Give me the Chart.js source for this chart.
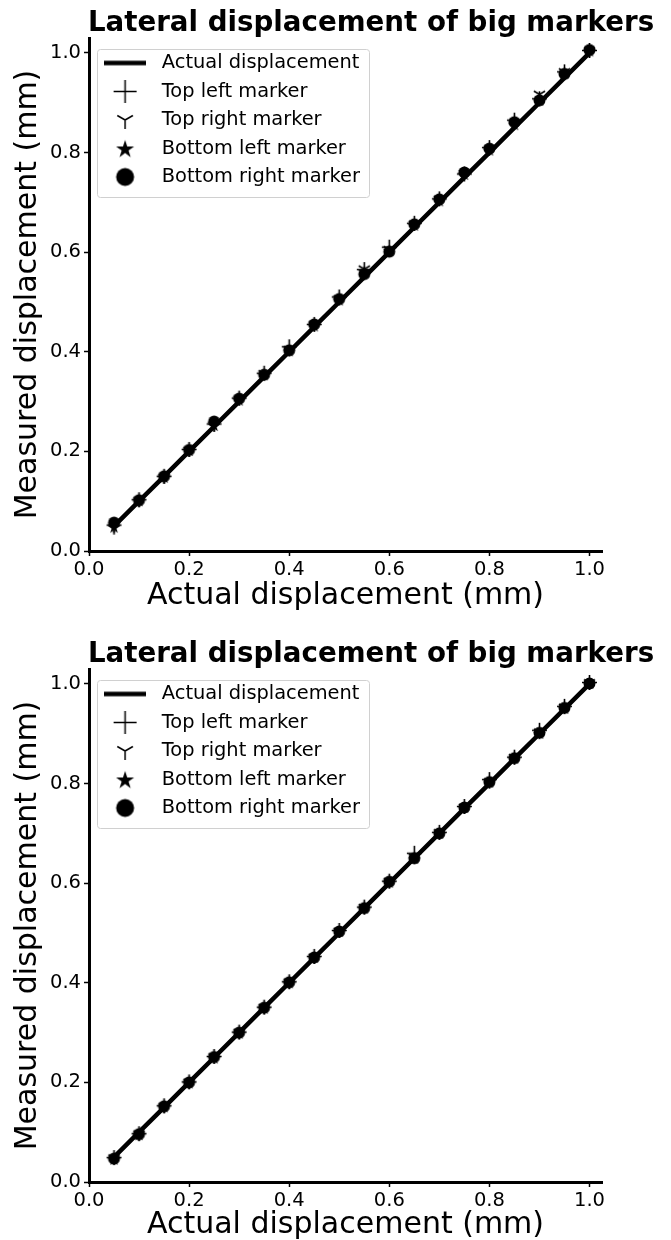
<!DOCTYPE html>
<html>
<head>
<meta charset="utf-8">
<script src="https://cdn.jsdelivr.net/npm/chart.js@4"></script>
<style>
  html, body { margin: 0; padding: 0; background: #fff; overflow: hidden; }
  .plot { position: absolute; left: 0; width: 671px; height: 620px; }
</style>
</head>
<body>
<div class="plot" style="top:0"><canvas id="chartTop" width="671" height="620"></canvas></div>
<div class="plot" style="top:620px"><canvas id="chartBottom" width="671" height="620"></canvas></div>
<script>
// actual displacement (mm)
const actual = [0.05, 0.10, 0.15, 0.20, 0.25, 0.30, 0.35, 0.40, 0.45, 0.50,
                0.55, 0.60, 0.65, 0.70, 0.75, 0.80, 0.85, 0.90, 0.95, 1.00];
const tickValues = [0.0, 0.2, 0.4, 0.6, 0.8, 1.0];
const seriesNames = ['Actual displacement', 'Top left marker', 'Top right marker',
                     'Bottom left marker', 'Bottom right marker'];
const plotTitle = 'Lateral displacement of big markers';

// first plot - measured (mm)
const topLeft1 = [0.052, 0.103, 0.150, 0.204, 0.255, 0.307, 0.357, 0.410, 0.455, 0.510,
                  0.565, 0.610, 0.658, 0.707, 0.757, 0.810, 0.865, 0.908, 0.962, 1.005];
const topRight1 = [0.046, 0.101, 0.148, 0.202, 0.252, 0.305, 0.356, 0.404, 0.454, 0.506,
                   0.566, 0.605, 0.656, 0.706, 0.758, 0.807, 0.858, 0.917, 0.962, 1.004];
const bottomLeft1 = [0.049, 0.102, 0.149, 0.203, 0.253, 0.304, 0.355, 0.403, 0.453, 0.505,
                     0.562, 0.604, 0.655, 0.704, 0.757, 0.806, 0.857, 0.906, 0.960, 1.005];
const bottomRight1 = [0.057, 0.102, 0.150, 0.203, 0.260, 0.306, 0.354, 0.403, 0.455, 0.506,
                      0.556, 0.601, 0.656, 0.706, 0.760, 0.808, 0.861, 0.905, 0.958, 1.006];

// second plot - measured (mm)
const topLeft2 = [0.049, 0.097, 0.153, 0.201, 0.252, 0.301, 0.351, 0.402, 0.453, 0.505,
                  0.552, 0.604, 0.660, 0.702, 0.754, 0.808, 0.853, 0.907, 0.955, 1.003];
const topRight2 = [0.048, 0.096, 0.151, 0.200, 0.251, 0.300, 0.350, 0.401, 0.451, 0.503,
                   0.551, 0.603, 0.652, 0.701, 0.752, 0.803, 0.852, 0.903, 0.953, 1.002];
const bottomLeft2 = [0.047, 0.096, 0.152, 0.200, 0.250, 0.300, 0.350, 0.401, 0.452, 0.504,
                     0.551, 0.603, 0.651, 0.701, 0.753, 0.804, 0.852, 0.902, 0.952, 1.002];
const bottomRight2 = [0.047, 0.096, 0.152, 0.200, 0.251, 0.300, 0.350, 0.401, 0.451, 0.503,
                      0.550, 0.603, 0.650, 0.700, 0.752, 0.803, 0.851, 0.902, 0.952, 1.001];

const FONT = '"DejaVu Sans", sans-serif';
Chart.defaults.color = '#000';
Chart.defaults.font.family = FONT;

// marker glyphs (matplotlib style) drawn on small canvases
function makeMarker(kind, size, lw) {
  const c = document.createElement('canvas');
  const w = kind === 'line' ? size : Math.ceil(size + lw + 2);
  const h = kind === 'line' ? Math.ceil(lw + 2) : w;
  c.width = w; c.height = h;
  const g = c.getContext('2d');
  const cx = w / 2, cy = h / 2, r = size / 2;
  g.fillStyle = '#000';
  g.strokeStyle = '#000';
  g.lineWidth = lw;
  if (kind === 'line') {
    g.fillRect(0, cy - lw / 2, w, lw);
  } else if (kind === 'plus') {
    g.beginPath();
    g.moveTo(cx - r, cy); g.lineTo(cx + r, cy);
    g.moveTo(cx, cy - r); g.lineTo(cx, cy + r);
    g.stroke();
  } else if (kind === 'tri') {
    g.beginPath();
    g.moveTo(cx, cy); g.lineTo(cx, cy + r);
    g.moveTo(cx, cy); g.lineTo(cx - r * 0.866, cy - r * 0.5);
    g.moveTo(cx, cy); g.lineTo(cx + r * 0.866, cy - r * 0.5);
    g.stroke();
  } else if (kind === 'star') {
    g.beginPath();
    for (let i = 0; i < 10; i++) {
      const rr = i % 2 === 0 ? r : r * 0.38;
      const a = -Math.PI / 2 + i * Math.PI / 5;
      const px = cx + rr * Math.cos(a), py = cy + 1 + rr * Math.sin(a);
      if (i === 0) g.moveTo(px, py); else g.lineTo(px, py);
    }
    g.closePath();
    g.fill();
  } else if (kind === 'circle') {
    g.beginPath();
    g.arc(cx, cy, r, 0, Math.PI * 2);
    g.fill();
  }
  return c;
}

const plotMarkers = [
  null,
  makeMarker('plus', 15, 1.6),
  makeMarker('tri', 13, 1.6),
  makeMarker('star', 13, 1),
  makeMarker('circle', 12, 1)
];
const legendIcons = [
  makeMarker('line', 42, 4.5),
  makeMarker('plus', 23, 1.5),
  makeMarker('tri', 18, 1.5),
  makeMarker('star', 19, 1),
  makeMarker('circle', 18, 1)
];

const titlePlugin = {
  id: 'plotTitle',
  afterDraw(chart, args, opts) {
    const ctx = chart.ctx;
    ctx.save();
    ctx.font = 'bold 27.7px ' + FONT;
    ctx.fillStyle = '#000';
    ctx.textAlign = 'center';
    ctx.textBaseline = 'alphabetic';
    ctx.fillText(opts.text, opts.x, opts.y);
    ctx.restore();
  }
};

// put the legend in the upper left of the axes and frame it
const legendFrame = {
  id: 'legendFrame',
  afterLayout(chart, args, opts) {
    const lg = chart.legend;
    lg.left = chart.chartArea.left;
    lg.top = chart.chartArea.top + opts.dy;
    lg.right = lg.left + lg.width;
    lg.bottom = lg.top + lg.height;
  },
  afterDraw(chart, args, opts) {
    const boxes = chart.legend.legendHitBoxes;
    if (!boxes || !boxes.length) return;
    const l = Math.min(...boxes.map(b => b.left)) - 1;
    const t = Math.min(...boxes.map(b => b.top)) - 4.3;
    const r = Math.max(...boxes.map(b => b.left + b.width)) + opts.padRight;
    const b = Math.max(...boxes.map(b => b.top + b.height)) + 10.3;
    const ctx = chart.ctx;
    ctx.save();
    ctx.strokeStyle = '#d0d0d0';
    ctx.lineWidth = 1;
    ctx.beginPath();
    ctx.roundRect(Math.round(l) + 0.5, Math.round(t) + 0.5, Math.round(r - l), Math.round(b - t), 3);
    ctx.stroke();
    ctx.restore();
  }
};

function buildChart(id, measured, areaTop, areaBottom, titleY, xTitlePad) {
  const toPoints = arr => actual.map((x, i) => ({x: x, y: arr[i]}));
  const datasets = [{
    label: seriesNames[0],
    data: toPoints(actual),
    showLine: true,
    borderColor: '#000',
    backgroundColor: '#000',
    borderWidth: 4.5,
    pointRadius: 0
  }];
  measured.forEach((arr, k) => {
    datasets.push({
      label: seriesNames[k + 1],
      data: toPoints(arr),
      showLine: false,
      pointStyle: plotMarkers[k + 1],
      pointRadius: 6,
      borderColor: '#000',
      backgroundColor: '#000'
    });
  });

  const axisTicks = {
    color: '#000',
    font: {size: 19.5, family: FONT},
    callback: v => Number(v).toFixed(1)
  };
  const axisGrid = {drawOnChartArea: false, drawTicks: true, tickLength: 5, tickWidth: 1.5, tickColor: '#000'};

  return new Chart(document.getElementById(id), {
    type: 'scatter',
    data: {datasets: datasets},
    plugins: [titlePlugin, legendFrame],
    options: {
      responsive: false,
      animation: false,
      devicePixelRatio: 1,
      layout: {padding: {top: areaTop, right: 69, bottom: 0, left: 0}},
      scales: {
        x: {
          type: 'linear',
          min: 0,
          max: 1.025,
          afterBuildTicks: s => { s.ticks = tickValues.map(v => ({value: v})); },
          afterFit: s => { s.height = 620 - areaBottom; },
          ticks: Object.assign({padding: 2, maxRotation: 0}, axisTicks),
          grid: axisGrid,
          border: {display: true, color: '#000', width: 3},
          title: {display: true, text: 'Actual displacement (mm)', font: {size: 30, family: FONT}, padding: {top: 0, bottom: xTitlePad}}
        },
        y: {
          type: 'linear',
          min: 0,
          max: 1.03,
          afterBuildTicks: s => { s.ticks = tickValues.map(v => ({value: v})); },
          afterFit: s => { s.width = 89; },
          ticks: Object.assign({padding: 3}, axisTicks),
          grid: axisGrid,
          border: {display: true, color: '#000', width: 3},
          title: {display: true, text: 'Measured displacement (mm)', font: {size: 30, family: FONT}, padding: {top: 10, bottom: 0}}
        }
      },
      plugins: {
        tooltip: {enabled: false},
        plotTitle: {text: plotTitle, x: 371, y: titleY},
        legendFrame: {dy: 6.2, padRight: 9},
        legend: {
          position: 'chartArea',
          align: 'start',
          labels: {
            usePointStyle: true,
            pointStyleWidth: 54,
            padding: 9.1,
            color: '#000',
            font: {size: 19.4, family: FONT},
            generateLabels: chart => {
              const items = Chart.defaults.plugins.legend.labels.generateLabels(chart);
              items.forEach(it => { it.pointStyle = legendIcons[it.datasetIndex]; });
              return items;
            }
          }
        }
      }
    }
  });
}

buildChart('chartTop', [topLeft1, topRight1, bottomLeft1, bottomRight1], 38, 551, 31, 6);
buildChart('chartBottom', [topLeft2, topRight2, bottomLeft2, bottomRight2], 49, 562, 42, -3);
</script>
</body>
</html>
